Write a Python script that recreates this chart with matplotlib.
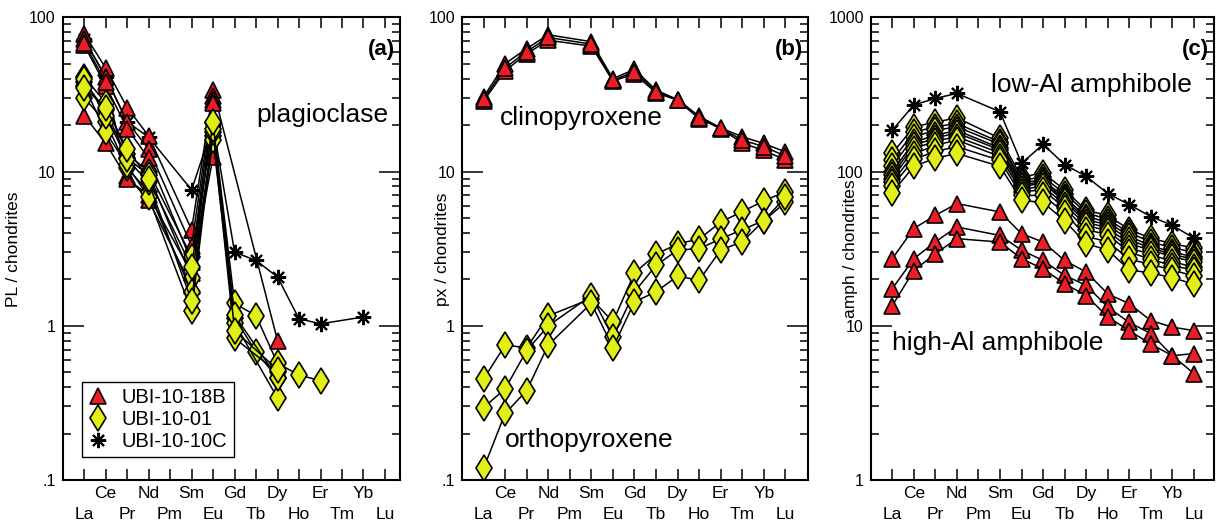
import numpy as np
import matplotlib
matplotlib.use("Agg")
import matplotlib.pyplot as plt
from matplotlib.ticker import NullFormatter, LogLocator
from matplotlib.lines import Line2D

plt.rcParams['font.family'] = ['Liberation Sans', 'DejaVu Sans']

n = np.nan
elements = ["La", "Ce", "Pr", "Nd", "Pm", "Sm", "Eu", "Gd", "Tb", "Dy", "Ho", "Er", "Tm", "Yb", "Lu"]

# ---- panel (a): plagioclase ----
pl_18B = [
    [78, 47, 26, 17, n, 4.2, 34, n, n, 0.8, n, n, n, n, n],
    [72, 41, 21, 14, n, 3.3, 31, n, n, n, n, n, n, n, n],
    [66, 36, 19, 12.2, n, 2.6, 29, n, n, n, n, n, n, n, n],
    [68, 38, 9.3, 6.5, n, 1.8, 28, n, n, n, n, n, n, n, n],
    [23, 15.3, 9.0, 7.0, n, 2.2, 12.5, n, n, n, n, n, n, n, n],
]
pl_01 = [
    [41, 28, 13, 10, n, 2.8, 20.5, 1.4, 1.16, 0.57, 0.48, 0.44, n, n, n],
    [38, 25, 12.2, 9.5, n, 2.05, 17, 1.13, 0.675, 0.46, n, n, n, n, n],
    [30, 21, 10.5, 7.4, n, 1.66, 16, 1.04, n, 0.34, n, n, n, n, n],
    [36, 18, 11, 6.8, n, 1.24, 18, 0.83, n, 0.5, n, n, n, n, n],
    [40, 23, 12, 8.5, n, 1.45, 19, 1.17, n, 0.46, n, n, n, n, n],
    [35, 26, 14, 9, n, 2.4, 21, 0.93, n, 0.52, n, n, n, n, n],
]
pl_10C = [
    [72, 41, 21, 16.7, n, 7.6, 20, 3.0, 2.65, 2.07, 1.11, 1.03, n, 1.14, n],
]

# ---- panel (b): pyroxenes ----
cpx_18B = [
    [30.4, 50, 62.7, 77, n, 69.5, 40, 46, 33.7, 29.3, 22.8, 19.2, 16.8, 15.2, 13.4],
    [28.6, 45, 58, 71, n, 65, 38.6, 43, 32.4, 29.0, 22, 19.0, 15.3, 13.7, 11.9],
    [29.5, 47, 60, 74, n, 67, 39, 44.5, 33, 29.1, 22.4, 19.1, 16.0, 14.5, 12.6],
]
opx_01 = [
    [0.45, 0.75, 0.72, 1.16, n, 1.5, 1.06, 2.2, 2.9, 3.4, 3.65, 4.7, 5.5, 6.45, 7.4],
    [0.295, 0.39, 0.69, 1.0, n, 1.57, 0.84, 1.66, 2.46, 3.1, 3.16, 3.66, 4.2, 4.8, 6.3],
    [0.119, 0.27, 0.38, 0.75, n, 1.4, 0.72, 1.43, 1.66, 2.1, 1.97, 3.1, 3.5, 4.8, 6.8],
]

# ---- panel (c): amphiboles ----
amph_18B = [
    [27.2, 42.7, 52, 62, n, 54.7, 39.5, 34.9, 26.5, 22.3, 16.1, 13.9, 10.8, 9.8, 9.3],
    [17.4, 27.2, 35, 43.7, n, 38.5, 30.9, 26.5, 21.2, 18.3, 13.2, 10.5, 8.9, 6.4, 6.6],
    [13.5, 22.8, 29.3, 36.7, n, 34.9, 27.2, 23.4, 18.7, 15.7, 11.4, 9.3, 7.6, 6.4, 4.9],
]
amph_01 = [
    [131, 195, 209, 223, n, 164, 92, 98, 76, 56, 52, 42, 37, 34, 32],
    [118, 180, 195, 205, n, 155, 88, 92, 72, 54, 49, 40, 35, 32, 30],
    [108, 168, 185, 195, n, 150, 85, 88, 68, 51, 47, 38, 33, 30, 28],
    [100, 155, 172, 185, n, 142, 82, 86, 66, 49, 45, 36, 32, 29, 27],
    [95, 148, 165, 178, n, 138, 80, 84, 64, 47, 43, 34, 31, 28, 26],
    [90, 140, 158, 168, n, 132, 77, 80, 61, 45, 41, 32, 29, 26, 24],
    [85, 130, 148, 160, n, 125, 74, 76, 58, 42, 39, 30, 27, 24.5, 23],
    [80, 120, 135, 145, n, 118, 70, 70, 54, 38, 35, 27, 25, 23, 21],
    [73, 108, 122, 131, n, 108, 65, 63, 48, 34, 31, 23, 22, 20.5, 18.6],
]
amph_10C = [
    [185, 270, 298, 321, n, 244, 113, 150, 111, 93, 72, 61, 51, 44.8, 37],
]

sample_names = ["UBI-10-18B", "UBI-10-01", "UBI-10-10C"]

RED = "#ee1c24"
YEL = "#e2ee18"
STY = {
    "tri": dict(marker="^", markersize=11.5, markerfacecolor=RED, markeredgecolor="black", markeredgewidth=1.2),
    "dia": dict(marker="d", markersize=13, markerfacecolor=YEL, markeredgecolor="black", markeredgewidth=1.2),
    "ast": dict(marker=(8, 2, 0), markersize=11, markerfacecolor="black", markeredgecolor="black", markeredgewidth=1.5),
}

W, H = 1217, 530
fig = plt.figure(figsize=(W / 100, H / 100), dpi=100)


def make_ax(l, r, t=17.3, b=480):
    return fig.add_axes([l / W, 1 - b / H, (r - l) / W, (b - t) / H])


def style_ax(ax, xlim, ylim, yticks, ylabels):
    ax.set_yscale("log")
    ax.set_ylim(*ylim)
    ax.set_xlim(*xlim)
    ax.set_yticks(yticks)
    ax.set_yticklabels(ylabels)
    ax.yaxis.set_minor_locator(LogLocator(base=10, subs=np.arange(2, 10)))
    ax.yaxis.set_minor_formatter(NullFormatter())
    ax.tick_params(axis="y", which="major", direction="in", length=15, width=1.1,
                   left=True, right=True, labelsize=11.5, pad=5)
    ax.tick_params(axis="y", which="minor", direction="in", length=6, width=1.1,
                   left=True, right=True)
    xs = np.arange(len(elements))
    ax.set_xticks(xs[0::2])
    ax.set_xticklabels(elements[0::2])
    ax.set_xticks(xs[1::2], minor=True)
    ax.set_xticklabels(elements[1::2], minor=True)
    ax.tick_params(axis="x", which="both", direction="in", length=8, width=1.1,
                   top=True, bottom=True, labelsize=12.5)
    ax.tick_params(axis="x", which="major", pad=19.5)
    ax.tick_params(axis="x", which="minor", pad=4)
    for s in ax.spines.values():
        s.set_linewidth(1.5)


def draw(ax, series_list, kind):
    xs = np.arange(len(elements))
    for vals in series_list:
        v = np.asarray(vals, dtype=float)
        m = ~np.isnan(v)
        ax.plot(xs[m], v[m], color="black", linewidth=1.1, **STY[kind])


def ftext(x, y, s, **kw):
    fig.text(x / W, 1 - y / H, s, **kw)


# panel a
axa = make_ax(62.7, 400)
style_ax(axa, (-1, 14.7), (0.1, 100), [0.1, 1, 10, 100], [".1", "1", "10", "100"])
draw(axa, pl_10C, "ast")
draw(axa, pl_18B, "tri")
draw(axa, pl_01, "dia")
axa.text(0.985, 0.93, "(a)", transform=axa.transAxes, ha="right", va="center",
         fontsize=16, fontweight="bold")
ftext(388, 115, "plagioclase", ha="right", va="center", fontsize=19)
handles = [Line2D([], [], linestyle="none", **STY[k]) for k in ("tri", "dia", "ast")]
leg = axa.legend(handles, sample_names, loc="lower left", bbox_to_anchor=(0.056, 0.05),
                 borderaxespad=0, fontsize=14.5, frameon=True, fancybox=False,
                 edgecolor="black", framealpha=1, handlelength=1.0, handletextpad=0.7,
                 labelspacing=0.15, borderpad=0.3)
leg.get_frame().set_linewidth(1.0)
ftext(13, 249, "PL / chondrites", rotation=90, ha="center", va="center", fontsize=12.5)

# panel b
axb = make_ax(462, 808)
style_ax(axb, (-1, 15.05), (0.1, 100), [0.1, 1, 10, 100], [".1", "1", "10", "100"])
draw(axb, cpx_18B, "tri")
draw(axb, opx_01, "dia")
axb.text(0.985, 0.93, "(b)", transform=axb.transAxes, ha="right", va="center",
         fontsize=16, fontweight="bold")
ftext(500, 118, "clinopyroxene", ha="left", va="center", fontsize=19)
ftext(505, 440, "orthopyroxene", ha="left", va="center", fontsize=19)
ftext(443, 249, "px / chondrites", rotation=90, ha="center", va="center", fontsize=12.5)

# panel c
axc = make_ax(870.7, 1214)
style_ax(axc, (-1, 14.93), (1, 1000), [1, 10, 100, 1000], ["1", "10", "100", "1000"])
draw(axc, amph_18B, "tri")
draw(axc, amph_01, "dia")
draw(axc, amph_10C, "ast")
axc.text(0.985, 0.93, "(c)", transform=axc.transAxes, ha="right", va="center",
         fontsize=16, fontweight="bold")
ftext(1192, 85, "low-Al amphibole", ha="right", va="center", fontsize=19)
ftext(892, 343, "high-Al amphibole", ha="left", va="center", fontsize=19)
ftext(851, 249, "amph / chondrites", rotation=90, ha="center", va="center", fontsize=12.5)

fig.savefig("out.png", dpi=100)
